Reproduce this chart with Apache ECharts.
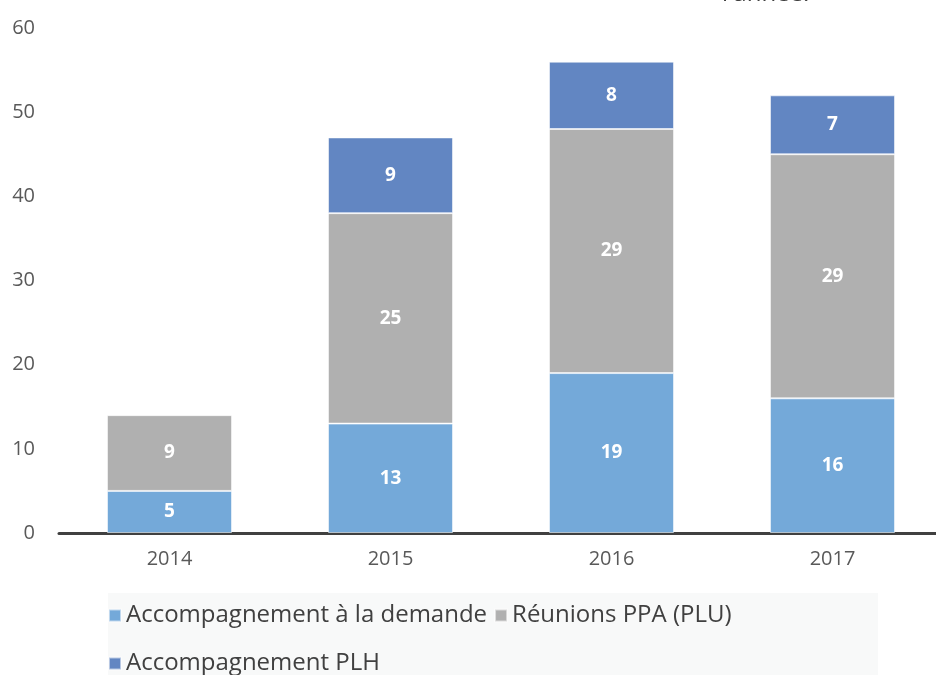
<!DOCTYPE html>
<html>
<head>
<meta charset="utf-8">
<script src="https://cdn.jsdelivr.net/npm/echarts@6/dist/echarts.min.js"></script>
<style>
  html, body { margin: 0; padding: 0; background: #fff; }
  #chart { width: 936px; height: 675px; }
</style>
</head>
<body>
<div id="chart"></div>
<script>
// data
const years = ['2014', '2015', '2016', '2017'];
const demande = [5, 13, 19, 16];
const reunionsPPA = [9, 25, 29, 29];
const plh = [null, 9, 8, 7];
const yTicks = [0, 10, 20, 30, 40, 50, 60];

const chart = echarts.init(document.getElementById('chart'));

const font = '"Open Sans", "DejaVu Sans", sans-serif';
const barLabel = {
  show: true,
  position: 'inside',
  color: '#fff',
  fontWeight: 'bold',
  fontSize: 19,
  fontFamily: font
};

function makeSeries(name, data, color) {
  return {
    name: name,
    type: 'bar',
    stack: 'total',
    barWidth: 125,
    data: data,
    itemStyle: {
      color: color,
      borderColor: 'rgba(255,255,255,0.55)',
      borderWidth: 1
    },
    label: barLabel
  };
}

chart.setOption({
  animation: false,
  textStyle: { fontFamily: font },
  grid: { left: 59, top: 28, width: 884, height: 505, outerBoundsMode: 'none' },
  xAxis: {
    type: 'category',
    data: years,
    axisLine: { lineStyle: { color: '#404040', width: 3 } },
    axisTick: { show: false },
    axisLabel: { color: '#595959', fontSize: 20, margin: 16 }
  },
  yAxis: {
    type: 'value',
    min: yTicks[0],
    max: yTicks[yTicks.length - 1],
    interval: 10,
    splitLine: { show: false },
    axisLine: { show: false },
    axisTick: { show: false },
    axisLabel: { color: '#595959', fontSize: 20, margin: 24 }
  },
  legend: {
    left: 108,
    top: 595,
    width: 700,
    padding: 0,
    itemGap: 7,
    itemWidth: 12,
    itemHeight: 12,
    icon: 'rect',
    textStyle: { color: '#404040', fontSize: 24, lineHeight: 41, fontFamily: font }
  },
  graphic: [
    {
      type: 'rect',
      z: -10,
      shape: { x: 108, y: 593, width: 770, height: 90 },
      style: { fill: '#f8f9f9' }
    },
    {
      type: 'text',
      x: 722,
      y: -6,
      style: { text: "l'année.", fontSize: 24, fill: '#404040', fontFamily: font, verticalAlign: 'middle' }
    }
  ],
  series: [
    makeSeries('Accompagnement à la demande', demande, '#74a9d9'),
    makeSeries('Réunions PPA (PLU)', reunionsPPA, '#b0b0b0'),
    makeSeries('Accompagnement PLH', plh, '#6286c2')
  ]
});
</script>
</body>
</html>
